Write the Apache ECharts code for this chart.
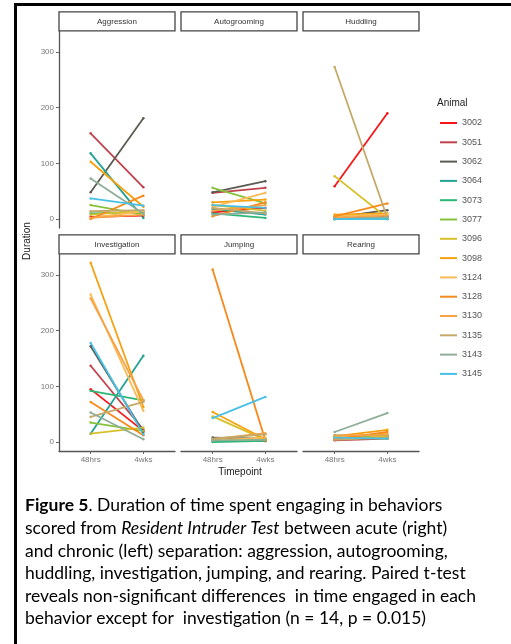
<!DOCTYPE html>
<html><head><meta charset="utf-8">
<script src="https://cdn.jsdelivr.net/npm/echarts@6/dist/echarts.min.js"></script>
<style>html,body{margin:0;padding:0;background:#fff}#c{width:511px;height:644px}</style>
</head><body><div id="c"></div>
<script>
const animals = ['3002','3051','3062','3064','3073','3077','3096','3098','3124','3128','3130','3135','3143','3145'];
const colors = ['#f8161a','#c0424c','#5b5b52','#22a396','#2db776','#86c23c','#d8c02a','#f6a10f','#fbbb55','#f78a1d','#f7a246','#c4aa6a','#8fae98','#49c0e6'];
const timepoints = ['48hrs','4wks'];
const behaviors = ['Aggression','Autogrooming','Huddling','Investigation','Jumping','Rearing'];
const yTicks = [0,100,200,300];

const aggression48h = [4,154,48,118,10,25,8,103,2,0,2,14,73,37];
const aggression4wk = [6,57,181,2,12,8,15,22,14,42,8,16,10,24];
const autogrooming48h = [12,47,48,18,10,56,25,30,22,5,15,20,8,25];
const autogrooming4wk = [20,56,68,8,2,28,15,35,47,30,25,10,12,20];
const huddling48h = [59,0,3,0,0,0,77,8,5,5,2,273,0,0];
const huddling4wk = [190,5,16,0,0,2,2,10,8,28,6,2,3,0];
const investigation48h = [95,137,172,15,92,35,15,322,265,72,258,45,53,178];
const investigation4wk = [20,22,18,155,75,20,26,63,56,12,75,72,5,14];
const jumping48h = [3,5,8,2,0,4,46,54,3,310,5,6,3,43];
const jumping4wk = [2,3,6,3,2,5,4,5,8,3,16,14,4,81];
const rearing48h = [5,3,5,10,12,8,6,10,8,5,12,4,18,8];
const rearing4wk = [8,6,8,12,10,6,10,22,15,18,13,8,52,6];

const panelData = [
  [aggression48h, aggression4wk],
  [autogrooming48h, autogrooming4wk],
  [huddling48h, huddling4wk],
  [investigation48h, investigation4wk],
  [jumping48h, jumping4wk],
  [rearing48h, rearing4wk]
];

const colLeft = [59, 181, 303];
const panelW = 116;
const rowTop = [30.8, 253.8];
const panelH = 197.2;
const stripH = 19;

const grids = [], xAxes = [], yAxes = [], series = [], graphics = [];
for (let p = 0; p < 6; p++) {
  const r = Math.floor(p / 3), c = p % 3;
  grids.push({left: colLeft[c], top: rowTop[r], width: panelW, height: panelH});
  const bottomRow = r === 1, leftCol = c === 0;
  xAxes.push({
    type: 'value', gridIndex: p, min: 0.4, max: 2.6,
    splitLine: {show: false},
    axisLine: {show: bottomRow, onZero: false, lineStyle: {color: '#555', width: 1.3}},
    axisTick: {show: bottomRow, customValues: [1, 2], length: 3, lineStyle: {color: '#666'}},
    axisLabel: {show: bottomRow, customValues: [1, 2], margin: 5, fontSize: 8, color: '#777', fontFamily: 'Liberation Sans',
      formatter: v => timepoints[Math.round(v) - 1]}
  });
  yAxes.push({
    type: 'value', gridIndex: p, min: -16.1, max: 338.1,
    splitLine: {show: false},
    axisLine: {show: leftCol, onZero: false, lineStyle: {color: '#555', width: 1.3}},
    axisTick: {show: leftCol, customValues: yTicks, length: 3, lineStyle: {color: '#666'}},
    axisLabel: {show: leftCol, customValues: yTicks, margin: 5, fontSize: 8, color: '#777', fontFamily: 'Liberation Sans'}
  });
  const [a, b] = panelData[p];
  for (let j = 0; j < animals.length; j++) {
    series.push({
      type: 'line', name: animals[j], xAxisIndex: p, yAxisIndex: p,
      data: [[1, a[j]], [2, b[j]]],
      color: colors[j],
      lineStyle: {width: 1.8, color: colors[j]},
      itemStyle: {color: colors[j]},
      symbol: 'circle', symbolSize: 2.5, showSymbol: true,
      silent: true, animation: false
    });
  }
  graphics.push({
    type: 'rect', shape: {x: colLeft[c], y: rowTop[r] - stripH, width: panelW, height: stripH},
    style: {fill: '#fff', stroke: '#444', lineWidth: 1.3}
  });
  graphics.push({
    type: 'text', x: colLeft[c] + panelW / 2, y: rowTop[r] - stripH / 2,
    style: {text: behaviors[p], fill: '#333', font: '8px "Liberation Sans"', align: 'center', verticalAlign: 'middle'}
  });
}

// frame
graphics.push({type: 'line', shape: {x1: 15.5, y1: 3, x2: 15.5, y2: 660}, style: {stroke: '#000', lineWidth: 3}});
graphics.push({type: 'line', shape: {x1: 14, y1: 4.5, x2: 530, y2: 4.5}, style: {stroke: '#000', lineWidth: 3}});

// axis titles
graphics.push({type: 'text', x: 27, y: 241, rotation: Math.PI / 2,
  style: {text: 'Duration', fill: '#222', font: '10px "Liberation Sans"', align: 'center', verticalAlign: 'middle'}});
graphics.push({type: 'text', x: 240, y: 472,
  style: {text: 'Timepoint', fill: '#222', font: '10px "Liberation Sans"', align: 'center', verticalAlign: 'middle'}});
graphics.push({type: 'text', x: 437, y: 103,
  style: {text: 'Animal', fill: '#222', font: '10px "Liberation Sans"', align: 'left', verticalAlign: 'middle'}});

// caption
const capFont = 'Lato';
const capSize = 17.5;
const rich = {
  n: {fontFamily: capFont, fontSize: capSize, color: '#222'},
  b: {fontFamily: capFont, fontSize: capSize, color: '#222', fontWeight: 'bold'},
  i: {fontFamily: capFont, fontSize: capSize, color: '#222', fontStyle: 'italic'}
};
const capLines = [
  '{b|Figure 5}{n|. Duration of time spent engaging in behaviors}',
  '{n|scored from }{i|Resident Intruder Test}{n| between acute (right)}',
  '{n|and chronic (left) separation: aggression, autogrooming,}',
  '{n|huddling, investigation, jumping, and rearing. Paired t-test}',
  '{n|reveals non-significant differences  in time engaged in each}',
  '{n|behavior except for  investigation (n = 14, p = 0.015)}'
];
const capY = [505, 528, 551, 573, 596, 618];
capLines.forEach((t, k) => {
  graphics.push({type: 'text', x: 25, y: capY[k],
    style: {text: t, rich: rich, align: 'left', verticalAlign: 'middle'}});
});

const chart = echarts.init(document.getElementById('c'), null, {renderer: 'canvas'});
chart.setOption({
  backgroundColor: '#fff',
  animation: false,
  grid: grids, xAxis: xAxes, yAxis: yAxes, series: series,
  legend: {
    data: animals, orient: 'vertical', left: 440, top: 117, padding: 0,
    icon: 'rect', itemWidth: 17, itemHeight: 2, itemGap: 7.3,
    textStyle: {fontSize: 9, lineHeight: 12, color: '#555', fontFamily: 'Liberation Sans'},
    selectedMode: false
  },
  graphic: graphics
});
</script></body></html>
